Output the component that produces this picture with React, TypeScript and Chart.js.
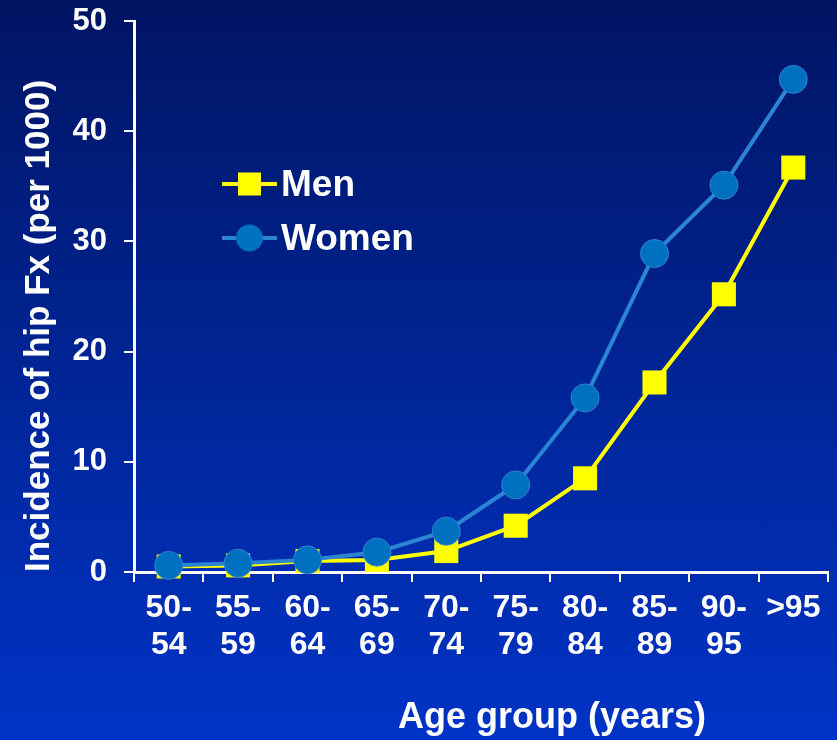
import React, { useEffect, useRef } from "react";
import { Chart, registerables } from "chart.js";

Chart.register(...registerables);

const categories: string[][] = [
  ["50-", "54"], ["55-", "59"], ["60-", "64"], ["65-", "69"], ["70-", "74"],
  ["75-", "79"], ["80-", "84"], ["85-", "89"], ["90-", "95"], [">95"],
];
const menValues: number[] = [0.5, 0.6, 1.0, 1.1, 1.9, 4.2, 8.5, 17.2, 25.2, 36.7];
const womenValues: number[] = [0.6, 0.8, 1.1, 1.8, 3.7, 7.9, 15.8, 28.9, 35.1, 44.7];
const yTicks: number[] = [0, 10, 20, 30, 40, 50];
const yTitle = "Incidence of hip Fx (per 1000)";
const xTitle = "Age group (years)";
const seriesNames: string[] = ["Men", "Women"];

const FONT = "'Liberation Sans', Arial, Helvetica, sans-serif";
const MEN_COLOR = "#ffff00";
const WOMEN_LINE = "#2a86d4";
const WOMEN_POINT = "#0070c0";

const overlayPlugin = {
  id: "overlay",
  afterDraw(chart: any) {
    const ctx = chart.ctx as CanvasRenderingContext2D;
    ctx.save();
    // legend
    const lx0 = 222;
    const lx1 = 277;
    const rows = [184, 238];
    chart.data.datasets.forEach((ds: any, i: number) => {
      const y = rows[i];
      ctx.strokeStyle = ds.borderColor;
      ctx.lineWidth = ds.borderWidth;
      ctx.beginPath();
      ctx.moveTo(lx0, y);
      ctx.lineTo(lx1, y);
      ctx.stroke();
      const cx = (lx0 + lx1) / 2;
      ctx.fillStyle = ds.pointBackgroundColor;
      if (ds.pointStyle === "rect") {
        const s = 23;
        ctx.fillRect(cx - s / 2, y - s / 2, s, s);
      } else {
        ctx.beginPath();
        ctx.arc(cx, y, 13.5, 0, Math.PI * 2);
        ctx.fill();
      }
      ctx.fillStyle = "#ffffff";
      ctx.font = `bold 37px ${FONT}`;
      ctx.textAlign = "left";
      ctx.textBaseline = "middle";
      ctx.fillText(ds.label, 281, y + 2);
    });
    // x axis title
    ctx.fillStyle = "#ffffff";
    ctx.font = `bold 36px ${FONT}`;
    ctx.textAlign = "center";
    ctx.textBaseline = "middle";
    ctx.fillText(xTitle, 552, 718);
    ctx.restore();
  },
};

function zeroPadding(scale: any) {
  scale.paddingLeft = 0;
  scale.paddingRight = 0;
  scale.paddingTop = 0;
  scale.paddingBottom = 0;
}

export default function App() {
  const canvasRef = useRef<HTMLCanvasElement | null>(null);

  useEffect(() => {
    document.body.style.margin = "0";
    const canvas = canvasRef.current;
    if (!canvas) return;
    const chart = new Chart(canvas, {
      type: "line",
      data: {
        labels: categories,
        datasets: [
          {
            label: seriesNames[0],
            data: menValues,
            borderColor: MEN_COLOR,
            backgroundColor: MEN_COLOR,
            borderWidth: 4,
            pointStyle: "rect",
            pointRadius: 17,
            pointBackgroundColor: MEN_COLOR,
            pointBorderColor: MEN_COLOR,
            pointBorderWidth: 0,
            order: 1,
            tension: 0,
            clip: false,
          },
          {
            label: seriesNames[1],
            data: womenValues,
            borderColor: WOMEN_LINE,
            backgroundColor: WOMEN_POINT,
            borderWidth: 4,
            pointStyle: "circle",
            pointRadius: 14,
            pointBackgroundColor: WOMEN_POINT,
            pointBorderColor: "#2f86cf",
            pointBorderWidth: 1,
            order: 0,
            tension: 0,
            clip: false,
          },
        ],
      },
      options: {
        responsive: false,
        animation: false,
        layout: { autoPadding: false, padding: { top: 21, right: 9, bottom: 0, left: 0 } },
        plugins: {
          legend: { display: false },
          tooltip: { enabled: false },
        },
        scales: {
          x: {
            type: "category",
            offset: true,
            grid: {
              offset: true,
              drawOnChartArea: false,
              drawTicks: true,
              tickLength: 10,
              color: "#ffffff",
              lineWidth: 2,
            },
            border: { display: true, color: "#ffffff", width: 3 },
            ticks: {
              color: "#ffffff",
              font: { family: FONT, size: 32, weight: "bold", lineHeight: 1.15 },
              padding: 8,
              maxRotation: 0,
              autoSkip: false,
            },
            afterFit(scale: any) {
              scale.height = 168;
              zeroPadding(scale);
            },
          },
          y: {
            min: 0,
            max: 50,
            afterBuildTicks(scale: any) {
              scale.ticks = yTicks.map((v) => ({ value: v }));
            },
            grid: {
              drawOnChartArea: false,
              drawTicks: true,
              tickLength: 10,
              color: "#ffffff",
              lineWidth: 2,
            },
            border: { display: true, color: "#ffffff", width: 3 },
            ticks: {
              color: "#ffffff",
              font: { family: FONT, size: 31, weight: "bold" },
              padding: 17,
            },
            title: {
              display: true,
              text: yTitle,
              color: "#ffffff",
              align: "start",
              font: { family: FONT, size: 35, weight: "bold" },
              padding: { top: 18, bottom: 0 },
            },
            afterFit(scale: any) {
              scale.width = 134;
              zeroPadding(scale);
            },
          },
        },
      },
      plugins: [overlayPlugin],
    } as any);
    return () => chart.destroy();
  }, []);

  return (
    <div
      style={{
        position: "fixed",
        left: 0,
        top: 0,
        width: 837,
        height: 740,
        background: "linear-gradient(180deg, #001462 0%, #00269a 55%, #0033c6 100%)",
      }}
    >
      <canvas ref={canvasRef} width={837} height={740} style={{ display: "block" }} />
    </div>
  );
}
